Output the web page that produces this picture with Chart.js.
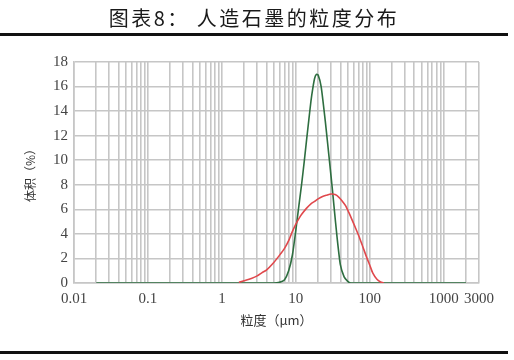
<!DOCTYPE html>
<html>
<head>
<meta charset="utf-8">
<script src="https://cdn.jsdelivr.net/npm/chart.js@4"></script>
<style>
  body { margin: 0; background: #fff; }
  #wrap { position: relative; width: 514px; height: 360px; }
  #titulo { position: absolute; top: 3px; left: 0; width: 508px; text-align: center;
    font: 20px 'Noto Sans CJK SC', sans-serif; letter-spacing: 2.5px; color: #1a1a1a; }
  .regla { position: absolute; left: 0; width: 508px; height: 3px; background: #111; }
</style>
</head>
<body>
<div id="wrap">
  <canvas id="grafica" width="514" height="360"></canvas>
  <div id="titulo">图表8： 人造石墨的粒度分布</div>
  <div class="regla" style="top:33px"></div>
  <div class="regla" style="top:351px"></div>
</div>
<script>
// particle size (µm) and volume (%)
const tamanosVerde = [0.02, 1, 5, 6, 7, 8, 9, 10, 11, 12, 13, 14, 15, 16, 17, 18, 19, 20, 22, 25, 27, 29, 31, 33, 36, 40, 45, 50, 55, 100, 2000]
const valoresVerde = [0, 0, 0, 0.05, 0.25, 1.0, 2.3, 4.3, 6.3, 8.1, 9.9, 11.7, 13.3, 14.8, 15.9, 16.7, 17.0, 16.95, 16.0, 13.2, 11.3, 9.5, 7.8, 6.1, 3.8, 1.5, 0.5, 0.15, 0, 0, 0]

const tamanosRojo = [1.7, 2, 2.5, 3, 3.5, 4, 5, 6, 7, 8, 9, 10, 11, 12, 14, 16, 18, 20, 23, 26, 30, 34, 38, 42, 47, 52, 58, 65, 72, 80, 90, 100, 110, 125, 140, 155]
const valoresRojo = [0.05, 0.18, 0.37, 0.58, 0.85, 1.05, 1.65, 2.25, 2.8, 3.45, 4.2, 4.8, 5.25, 5.6, 6.1, 6.45, 6.65, 6.85, 7.05, 7.15, 7.25, 7.2, 7.0, 6.7, 6.3, 5.75, 5.1, 4.4, 3.75, 3.0, 2.15, 1.45, 0.8, 0.3, 0.08, 0]

const etiquetasX = [0.01, 0.1, 1, 10, 100, 1000, 3000]

const aPuntos = (xs, ys) => xs.map((x, i) => ({ x: x, y: ys[i] }))
const fuenteTicks = { family: "'Liberation Serif', serif", size: 15 }
const gris = '#c6c6c6'

new Chart(document.getElementById('grafica'), {
    type: 'line',
    data: {
        datasets: [
            {
                label: 'red',
                data: aPuntos(tamanosRojo, valoresRojo),
                borderColor: '#e0484c',
                borderWidth: 1.6,
                pointRadius: 0,
                tension: 0.2
            },
            {
                label: 'green',
                data: aPuntos(tamanosVerde, valoresVerde),
                borderColor: '#2e6e40',
                borderWidth: 1.6,
                pointRadius: 0,
                tension: 0.2
            }
        ]
    },
    options: {
        responsive: false,
        animation: false,
        layout: { padding: { top: 62, right: 35, left: 0, bottom: 0 } },
        plugins: { legend: { display: false }, tooltip: { enabled: false } },
        scales: {
            x: {
                type: 'logarithmic',
                min: 0.01,
                max: 3000,
                afterBuildTicks: s => {
                    // only 1..9 per decade, no 1.5 steps
                    s.ticks = s.ticks.filter(t => {
                        const m = t.value / Math.pow(10, Math.floor(Math.log10(t.value) + 1e-9))
                        return Math.abs(m - Math.round(m)) < 1e-6
                    })
                },
                afterFit: s => { s.height = 77; s.paddingLeft = 0; s.paddingRight = 0 },
                grid: { color: gris, lineWidth: 1.6, drawTicks: false },
                border: { color: gris, width: 1.6 },
                ticks: {
                    autoSkip: false,
                    maxRotation: 0,
                    padding: 7,
                    color: '#444',
                    font: fuenteTicks,
                    callback: v => {
                        const e = etiquetasX.find(l => Math.abs(v / l - 1) < 1e-6)
                        return e !== undefined ? String(e) : ''
                    }
                },
                title: {
                    display: true,
                    text: '粒度（μm）',
                    color: '#333',
                    font: { family: "'Noto Sans CJK SC', sans-serif", size: 13 },
                    padding: { bottom: 32, top: 0 }
                }
            },
            y: {
                min: 0,
                max: 18,
                afterFit: s => { s.width = 74; s.paddingTop = 0; s.paddingBottom = 0 },
                grid: { color: gris, lineWidth: 1.6, drawTicks: false },
                border: { color: gris, width: 1.6 },
                ticks: { stepSize: 2, padding: 6, color: '#444', font: fuenteTicks },
                title: {
                    display: true,
                    text: '体积（%）',
                    color: '#333',
                    font: { family: "'Noto Sans CJK SC', sans-serif", size: 12 },
                    padding: { top: 23, bottom: 0 }
                }
            }
        }
    }
})
</script>
</body>
</html>
